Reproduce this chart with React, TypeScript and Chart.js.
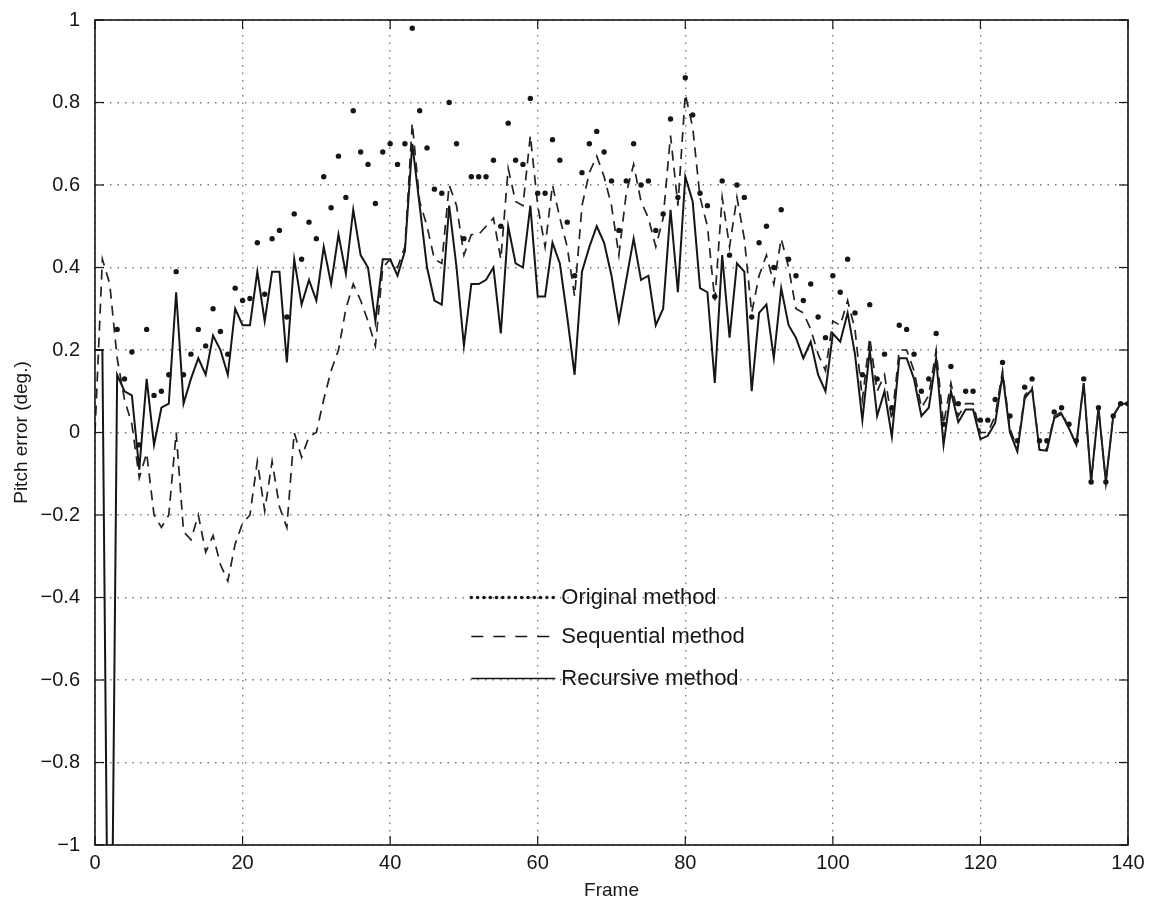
import React, { useEffect, useRef } from "react";
import { Chart, registerables } from "chart.js";

Chart.register(...registerables);

const X_TICKS = [0, 20, 40, 60, 80, 100, 120, 140];
const Y_TICKS = [-1, -0.8, -0.6, -0.4, -0.2, 0, 0.2, 0.4, 0.6, 0.8, 1];

const LEGEND_LABELS = ["Original method", "Sequential method", "Recursive method"];

// Original method (dots), frames 0..140
const originalMethod: (number | null)[] = [
  null, null, null, 0.25, 0.13, 0.195, -0.03, 0.25, 0.09, 0.10,
  0.14, 0.39, 0.14, 0.19, 0.25, 0.21, 0.30, 0.245, 0.19, 0.35,
  0.32, 0.325, 0.46, 0.335, 0.47, 0.49, 0.28, 0.53, 0.42, 0.51,
  0.47, 0.62, 0.545, 0.67, 0.57, 0.78, 0.68, 0.65, 0.555, 0.68,
  0.70, 0.65, 0.70, 0.98, 0.78, 0.69, 0.59, 0.58, 0.80, 0.70,
  0.47, 0.62, 0.62, 0.62, 0.66, 0.50, 0.75, 0.66, 0.65, 0.81,
  0.58, 0.58, 0.71, 0.66, 0.51, 0.38, 0.63, 0.70, 0.73, 0.68,
  0.61, 0.49, 0.61, 0.70, 0.60, 0.61, 0.49, 0.53, 0.76, 0.57,
  0.86, 0.77, 0.58, 0.55, 0.33, 0.61, 0.43, 0.60, 0.57, 0.28,
  0.46, 0.50, 0.40, 0.54, 0.42, 0.38, 0.32, 0.36, 0.28, 0.23,
  0.38, 0.34, 0.42, 0.29, 0.14, 0.31, 0.13, 0.19, 0.06, 0.26,
  0.25, 0.19, 0.10, 0.13, 0.24, 0.02, 0.16, 0.07, 0.10, 0.10,
  0.03, 0.03, 0.08, 0.17, 0.04, -0.02, 0.11, 0.13, -0.02, -0.02,
  0.05, 0.06, 0.02, -0.02, 0.13, -0.12, 0.06, -0.12, 0.04, 0.07,
  0.07,
];

// Sequential method (dashed), frames 0..140
const sequentialMethod: number[] = [
  0.0, 0.42, 0.36, 0.18, 0.08, 0.02, -0.11, -0.05, -0.20, -0.23,
  -0.20, 0.0, -0.24, -0.26, -0.20, -0.29, -0.25, -0.32, -0.36, -0.27,
  -0.22, -0.20, -0.07, -0.19, -0.07, -0.18, -0.23, 0.0, -0.06, -0.01,
  0.0, 0.08, 0.15, 0.20, 0.30, 0.36, 0.32, 0.27, 0.21, 0.40,
  0.42, 0.40, 0.45, 0.75, 0.56, 0.50, 0.42, 0.41, 0.60, 0.55,
  0.43, 0.48, 0.48, 0.50, 0.52, 0.42, 0.64, 0.56, 0.55, 0.72,
  0.55, 0.45, 0.60, 0.52, 0.45, 0.33, 0.55, 0.63, 0.67, 0.62,
  0.55, 0.43, 0.58, 0.65, 0.56, 0.52, 0.45, 0.52, 0.72, 0.55,
  0.82, 0.74, 0.57, 0.50, 0.32, 0.57, 0.45, 0.57, 0.47, 0.29,
  0.38, 0.43, 0.36, 0.47, 0.40, 0.30, 0.29, 0.25, 0.19, 0.15,
  0.27, 0.26, 0.32, 0.25, 0.08, 0.23, 0.10, 0.14, 0.03, 0.20,
  0.20, 0.15, 0.06, 0.09, 0.20, 0.02, 0.12, 0.04, 0.07, 0.07,
  0.0, 0.0, 0.04, 0.15, 0.01, -0.04, 0.09, 0.11, -0.04, -0.04,
  0.04, 0.05, 0.01, -0.03, 0.12, -0.12, 0.06, -0.12, 0.04, 0.07,
  0.07,
];

// Recursive method (solid), frames 0..140
const recursiveMethod: number[] = [
  0.20, 0.20, -1.80, 0.14, 0.10, 0.09, -0.09, 0.13, -0.03, 0.06,
  0.07, 0.34, 0.07, 0.13, 0.18, 0.14, 0.235, 0.20, 0.14, 0.30,
  0.26, 0.26, 0.39, 0.27, 0.39, 0.39, 0.17, 0.42, 0.31, 0.37,
  0.32, 0.45, 0.36, 0.48, 0.385, 0.54, 0.43, 0.40, 0.27, 0.42,
  0.42, 0.38, 0.44, 0.70, 0.55, 0.40, 0.32, 0.31, 0.55, 0.40,
  0.21, 0.36, 0.36, 0.37, 0.40, 0.24, 0.50, 0.41, 0.40, 0.55,
  0.33, 0.33, 0.46, 0.41, 0.28, 0.14, 0.39, 0.45, 0.50, 0.46,
  0.38, 0.27, 0.37, 0.47, 0.37, 0.38, 0.26, 0.30, 0.54, 0.34,
  0.62, 0.56, 0.35, 0.34, 0.12, 0.43, 0.23, 0.41, 0.39, 0.10,
  0.29, 0.31, 0.18, 0.35, 0.26, 0.23, 0.18, 0.22, 0.14, 0.10,
  0.24, 0.22, 0.29, 0.19, 0.03, 0.20, 0.04, 0.10, -0.01, 0.18,
  0.18, 0.13, 0.04, 0.06, 0.18, -0.03, 0.10, 0.025, 0.056, 0.056,
  -0.016, -0.008, 0.023, 0.14, 0.0, -0.046, 0.083, 0.105, -0.042, -0.044,
  0.035, 0.045, 0.01, -0.03, 0.12, -0.12, 0.06, -0.12, 0.04, 0.07,
  0.07,
];

const toPoints = (arr: (number | null)[]) => arr.map((v, i) => ({ x: i, y: v }));

const FONT = "'Liberation Sans', Arial, Helvetica, sans-serif";
const INK = "#161616";

const fmtY = (v: number) => {
  const r = Math.round(v * 10) / 10;
  return (r < 0 ? "\u2212" : "") + String(Math.abs(r));
};

const framePlugin = {
  id: "frameAndLegend",
  afterDatasetsDraw(chart: any) {
    const { ctx, chartArea: a, scales } = chart;
    const xs = scales.x;
    const ys = scales.y;
    ctx.save();
    const line = (x1: number, y1: number, x2: number, y2: number) => {
      ctx.beginPath();
      ctx.moveTo(x1, y1);
      ctx.lineTo(x2, y2);
      ctx.stroke();
    };
    ctx.strokeStyle = INK;
    ctx.lineWidth = 1.6;
    ctx.setLineDash([]);
    ctx.strokeRect(a.left, a.top, a.right - a.left, a.bottom - a.top);
    ctx.lineWidth = 1.2;
    const L = 9;
    for (const v of X_TICKS) {
      const px = xs.getPixelForValue(v);
      line(px, a.bottom, px, a.bottom - L);
      line(px, a.top, px, a.top + L);
    }
    for (const v of Y_TICKS) {
      const py = ys.getPixelForValue(v);
      line(a.left, py, a.left + L, py);
      line(a.right, py, a.right - L, py);
    }

    // legend
    const sx = xs.getPixelForValue(51);
    const ex = sx + 84;
    const tx = sx + 90;
    const y0 = ys.getPixelForValue(-0.4);
    const rows = [y0, y0 + 39, y0 + 81];
    ctx.fillStyle = INK;
    for (let x = sx; x <= ex + 0.1; x += 6.3) {
      ctx.beginPath();
      ctx.arc(x, rows[0], 1.8, 0, Math.PI * 2);
      ctx.fill();
    }
    ctx.lineWidth = 1.6;
    ctx.setLineDash([12, 10]);
    line(sx, rows[1], ex, rows[1]);
    ctx.setLineDash([]);
    ctx.lineWidth = 1.6;
    line(sx, rows[2], ex, rows[2]);
    ctx.font = `22px ${FONT}`;
    ctx.textBaseline = "middle";
    ctx.textAlign = "left";
    LEGEND_LABELS.forEach((t, i) => ctx.fillText(t, tx, rows[i]));
    ctx.restore();
  },
};

export default function App() {
  const ref = useRef<HTMLCanvasElement>(null);
  useEffect(() => {
    if (!ref.current) return;
    const chart = new Chart(ref.current, {
      type: "line",
      data: {
        datasets: [
          {
            label: LEGEND_LABELS[0],
            data: toPoints(originalMethod),
            showLine: false,
            pointRadius: 2.7,
            pointBackgroundColor: INK,
            pointBorderWidth: 0,
            pointHoverRadius: 0,
          },
          {
            label: LEGEND_LABELS[1],
            data: toPoints(sequentialMethod),
            borderColor: "#222",
            borderWidth: 1.7,
            borderDash: [10, 7],
            pointRadius: 0,
            tension: 0,
          },
          {
            label: LEGEND_LABELS[2],
            data: toPoints(recursiveMethod),
            borderColor: INK,
            borderWidth: 2,
            pointRadius: 0,
            tension: 0,
          },
        ],
      } as any,
      options: {
        responsive: false,
        animation: false,
        events: [],
        layout: { padding: { top: 20, right: 25, left: 0, bottom: 0 } },
        plugins: { legend: { display: false }, tooltip: { enabled: false } },
        scales: {
          x: {
            type: "linear",
            min: 0,
            max: 140,
            afterBuildTicks: (axis: any) => {
              axis.ticks = X_TICKS.map((v) => ({ value: v }));
            },
            afterFit: (axis: any) => {
              axis.height = 62;
              axis.paddingLeft = 0;
              axis.paddingRight = 0;
            },
            grid: { color: "#7a7a7a", lineWidth: 1.4, drawTicks: false },
            border: { display: false, dash: [1.5, 6] },
            ticks: {
              padding: 6,
              autoSkip: false,
              maxRotation: 0,
              color: INK,
              font: { family: FONT, size: 20 },
              callback: (v: any) => String(v),
            },
            title: {
              display: true,
              text: "Frame",
              color: INK,
              font: { family: FONT, size: 19 },
              padding: { top: 0, bottom: 5 },
            },
          },
          y: {
            type: "linear",
            min: -1,
            max: 1,
            afterBuildTicks: (axis: any) => {
              axis.ticks = Y_TICKS.map((v) => ({ value: v }));
            },
            afterFit: (axis: any) => {
              axis.width = 95;
              axis.paddingTop = 0;
              axis.paddingBottom = 0;
            },
            grid: { color: "#7a7a7a", lineWidth: 1.4, drawTicks: false },
            border: { display: false, dash: [1.5, 6] },
            ticks: {
              padding: 15,
              color: INK,
              font: { family: FONT, size: 20 },
              callback: (v: any) => fmtY(Number(v)),
            },
            title: {
              display: true,
              text: "Pitch error (deg.)",
              color: INK,
              font: { family: FONT, size: 19 },
              padding: { top: 10, bottom: 0 },
            },
          },
        },
      } as any,
      plugins: [framePlugin],
    });
    return () => chart.destroy();
  }, []);
  return (
    <div style={{ position: "absolute", left: 0, top: 0, width: 1153, height: 907 }}>
      <canvas ref={ref} width={1153} height={907} style={{ display: "block" }} />
    </div>
  );
}
